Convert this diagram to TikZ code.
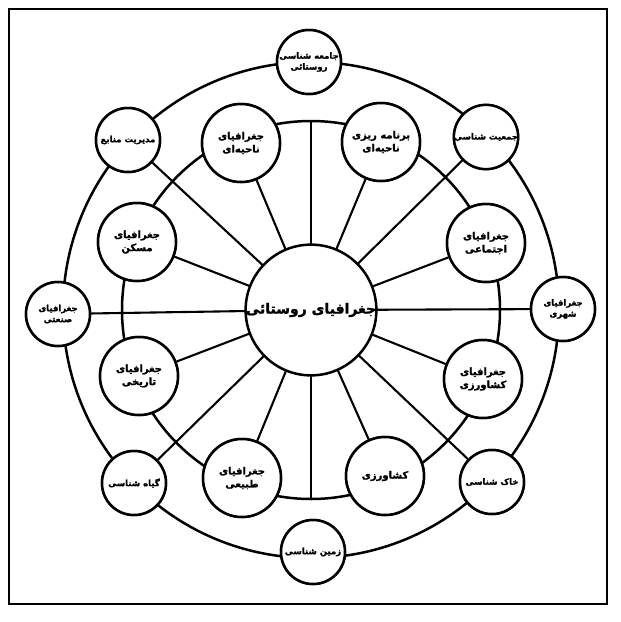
\documentclass[tikz,border=0pt]{standalone}
\usepackage{fontspec}
\newfontfamily\arabicfont[Script=Arabic,FakeBold=1.6]{DejaVu Sans Bold}
\TeXXeTstate=1
\newcommand\fa[1]{\beginR #1\endR}
\begin{document}
\begin{tikzpicture}[x=1pt,y=-1pt,
  frame/.style={line width=1.6pt},
  ring/.style={line width=2.5pt},
  spoke/.style={line width=2.1pt},
  hub/.style={circle, draw, line width=2.5pt, fill=white, inner sep=0pt, minimum size=124pt, font=\arabicfont\bfseries\fontsize{14}{16}\selectfont},
  inbub/.style={circle, draw, line width=2.5pt, fill=white, inner sep=0pt, minimum size=78pt, align=center, font=\arabicfont\bfseries\fontsize{10}{13}\selectfont},
  outbub/.style={circle, draw, line width=2.5pt, fill=white, inner sep=0pt, minimum size=64pt, align=center, font=\arabicfont\bfseries\fontsize{8.5}{11}\selectfont}]
\useasboundingbox (0,0) rectangle (621,622);
\draw[frame] (9,9) rectangle (607,604);
% rings
\draw[ring] (311,310) circle[radius=248];
\draw[ring] (311,310) circle[radius=189];
% coordinates for vertical spokes
\coordinate (mt) at (311,121);
\coordinate (mb) at (311,499);
% hub
\node[hub] (c) at (311,310) {};
% inner bubbles
\node[inbub] (n1) at (241,143) {};
\node[inbub] (n2) at (381,142) {};
\node[inbub] (n3) at (486,243) {};
\node[inbub] (n4) at (483,379) {};
\node[inbub] (n5) at (385,476) {};
\node[inbub] (n6) at (242,478) {};
\node[inbub] (n7) at (139,376) {};
\node[inbub] (n8) at (137,242) {};
% outer bubbles
\node[outbub] (o1) at (309,62) {};
\node[outbub] (o2) at (486,137) {};
\node[outbub] (o3) at (563,309) {};
\node[outbub] (o4) at (492,482) {};
\node[outbub] (o5) at (313,552) {};
\node[outbub] (o6) at (134,483) {};
\node[outbub] (o7) at (58,314) {};
\node[outbub] (o8) at (128,140) {};
% spokes
\foreach \t in {n1,n2,n3,n4,n5,n6,n7,n8,o2,o3,o4,o6,o7,o8}
  \draw[spoke] (c) -- (\t);
\draw[spoke] (c) -- (mt);
\draw[spoke] (c) -- (mb);
% redraw nodes on top with text
\node[hub] at (311,310) {\fa{جغرافیای روستائی}};
\node[inbub] at (n1) {\fa{جغرافیای}\\\fa{ناحیه‌ای}};
\node[inbub] at (n2) {\fa{برنامه ریزی}\\\fa{ناحیه‌ای}};
\node[inbub] at (n3) {\fa{جغرافیای}\\\fa{اجتماعی}};
\node[inbub] at (n4) {\fa{جغرافیای}\\\fa{کشاورزی}};
\node[inbub] at (n5) {\fa{کشاورزی}};
\node[inbub] at (n6) {\fa{جغرافیای}\\\fa{طبیعی}};
\node[inbub] at (n7) {\fa{جغرافیای}\\\fa{تاریخی}};
\node[inbub] at (n8) {\fa{جغرافیای}\\\fa{مسکن}};
\node[outbub] at (o1) {\fa{جامعه شناسی}\\\fa{روستائی}};
\node[outbub] at (o2) {\fa{جمعیت شناسی}};
\node[outbub] at (o3) {\fa{جغرافیای}\\\fa{شهری}};
\node[outbub] at (o4) {\fa{خاک شناسی}};
\node[outbub] at (o5) {\fa{زمین شناسی}};
\node[outbub] at (o6) {\fa{گیاه شناسی}};
\node[outbub] at (o7) {\fa{جغرافیای}\\\fa{صنعتی}};
\node[outbub] at (o8) {\fa{مدیریت منابع}};
\end{tikzpicture}
\end{document}
